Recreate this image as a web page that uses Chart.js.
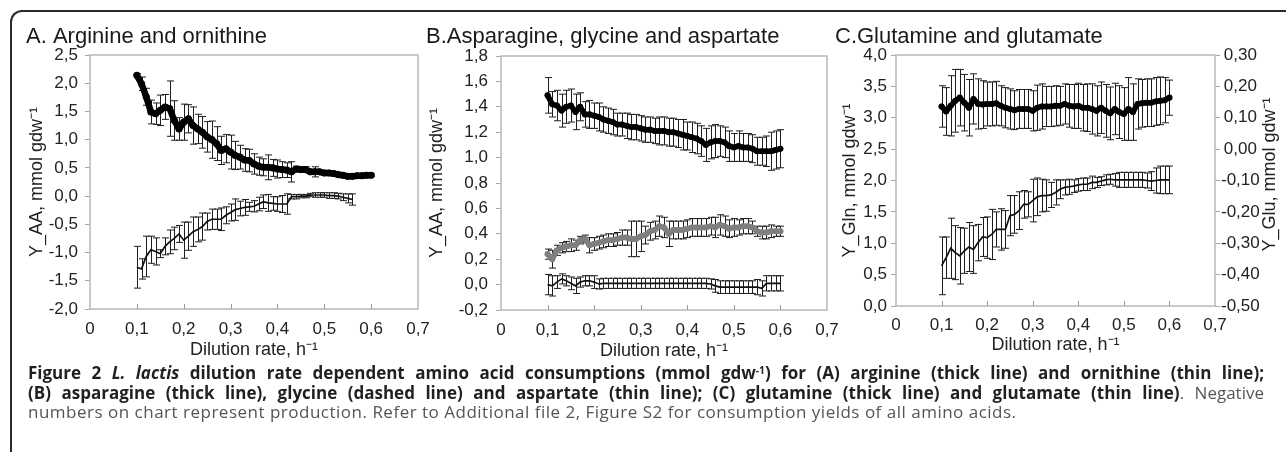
<!DOCTYPE html>
<html>
<head>
<meta charset="utf-8">
<title>Figure 2 - L. lactis amino acid consumption</title>
<script src="https://cdn.jsdelivr.net/npm/chart.js@4.4.1/dist/chart.umd.min.js"></script>
<style>
  html, body { margin: 0; padding: 0; background: #fff; }
  body { width: 1286px; height: 452px; position: relative; overflow: hidden; }
  .frame {
    position: absolute; left: 10px; top: 10px; width: 1320px; height: 480px;
    border-top: 2px solid #2b2b2b; border-left: 2px solid #2b2b2b;
    border-top-left-radius: 12px;
  }
  canvas { position: absolute; }
  .caption {
    position: absolute; left: 28px; top: 363px; width: 1236px;
    font-family: "Open Sans", "Noto Sans", sans-serif; font-size: 17px; line-height: 19.5px;
    color: #555;
  }
  .caption b { color: #231f20; }
  .caption .j { text-align: justify; text-align-last: justify; white-space: nowrap; }
  .caption .last { letter-spacing: 0.5px; white-space: nowrap; }
  .caption sup { font-size: 0.6em; line-height: 0; vertical-align: 0.5em; }
</style>
</head>
<body>
<div class="frame"></div>
<canvas id="chartA"></canvas>
<canvas id="chartB"></canvas>
<canvas id="chartC"></canvas>
<div class="caption">
  <div class="j"><b>Figure 2 <i>L. lactis</i> dilution rate dependent amino acid consumptions (mmol gdw<sup>-1</sup>) for (A) arginine (thick line) and ornithine (thin line);</b></div>
  <div class="j"><b>(B) asparagine (thick line), glycine (dashed line) and aspartate (thin line); (C) glutamine (thick line) and glutamate (thin line)</b>. Negative</div>
  <div class="last">numbers on chart represent production. Refer to Additional file 2, Figure S2 for consumption yields of all amino acids.</div>
</div>
<script>
// Datos (tasa de dilucion en h-1)
const dilutionRate = [0.10, 0.11, 0.12, 0.13, 0.14, 0.15, 0.16, 0.17, 0.18, 0.19,
                      0.20, 0.21, 0.22, 0.23, 0.24, 0.25, 0.26, 0.27, 0.28, 0.29,
                      0.30, 0.31, 0.32, 0.33, 0.34, 0.35, 0.36, 0.37, 0.38, 0.39,
                      0.40, 0.41, 0.42, 0.43, 0.44, 0.45, 0.46, 0.47, 0.48, 0.49,
                      0.50, 0.51, 0.52, 0.53, 0.54, 0.55, 0.56, 0.57, 0.58, 0.59, 0.60];

// A. arginina (linea gruesa) y ornitina (linea fina)
const arginine = [2.14, 1.99, 1.76, 1.49, 1.46, 1.52, 1.58, 1.55, 1.34, 1.19,
                  1.31, 1.37, 1.25, 1.19, 1.13, 1.05, 1.00, 0.93, 0.81, 0.84,
                  0.78, 0.72, 0.69, 0.64, 0.63, 0.57, 0.53, 0.51, 0.51, 0.50,
                  0.48, 0.47, 0.46, 0.43, 0.48, 0.47, 0.47, 0.43, 0.43, 0.43,
                  0.41, 0.41, 0.40, 0.38, 0.37, 0.35, 0.35, 0.36, 0.36, 0.37, 0.37];
const arginineErr = [0.03, 0.12, 0.15, 0.21, 0.19, 0.27, 0.22, 0.49, 0.35, 0.20,
                     0.32, 0.25, 0.33, 0.26, 0.28, 0.27, 0.33, 0.30, 0.25, 0.25,
                     0.30, 0.25, 0.21, 0.20, 0.20, 0.18, 0.16, 0.15, 0.22, 0.15,
                     0.16, 0.14, 0.13, 0.18, 0.05, 0.03, 0.05, 0.03, 0.09, 0.02,
                     0.02, 0.02, 0.02, 0.02, 0.02, 0.02, 0.02, 0.02, 0.02, 0.02, 0.02];
const ornithine = [-1.26, -1.29, -1.07, -0.95, -0.98, -1.02, -0.89, -0.81, -0.75, -0.67,
                   -0.78, -0.71, -0.63, -0.59, -0.54, -0.45, -0.41, -0.41, -0.41, -0.34,
                   -0.29, -0.24, -0.22, -0.20, -0.19, -0.18, -0.14, -0.10, -0.12, -0.13,
                   -0.14, -0.14, -0.14, -0.01, -0.01, 0.00, 0.00, 0.02, 0.02, 0.02,
                   0.02, 0.01, 0.01, 0.00, -0.02, -0.04, -0.06];
const ornithineErr = [0.37, 0.18, 0.36, 0.24, 0.24, 0.07, 0.15, 0.21, 0.20, 0.15,
                      0.32, 0.25, 0.26, 0.22, 0.24, 0.15, 0.18, 0.18, 0.20, 0.15,
                      0.15, 0.19, 0.13, 0.14, 0.08, 0.10, 0.12, 0.12, 0.15, 0.12,
                      0.13, 0.15, 0.18, 0.04, 0.04, 0.03, 0.03, 0.03, 0.04, 0.04,
                      0.04, 0.05, 0.05, 0.05, 0.06, 0.08, 0.10];

// B. asparagina (gruesa), glicina (gris) y aspartato (fina)
const asparagine = [1.49, 1.42, 1.41, 1.37, 1.40, 1.41, 1.36, 1.40, 1.34, 1.34,
                    1.33, 1.32, 1.30, 1.29, 1.28, 1.26, 1.26, 1.25, 1.24, 1.24,
                    1.23, 1.22, 1.22, 1.21, 1.21, 1.21, 1.20, 1.20, 1.19, 1.18,
                    1.17, 1.16, 1.15, 1.13, 1.10, 1.12, 1.13, 1.13, 1.12, 1.09,
                    1.08, 1.09, 1.08, 1.08, 1.07, 1.05, 1.05, 1.05, 1.05, 1.06, 1.07];
const asparagineErr = [0.14, 0.10, 0.12, 0.13, 0.13, 0.13, 0.14, 0.11, 0.10, 0.11,
                       0.10, 0.11, 0.10, 0.10, 0.10, 0.09, 0.09, 0.10, 0.10, 0.10,
                       0.10, 0.10, 0.10, 0.10, 0.11, 0.11, 0.11, 0.11, 0.11, 0.12,
                       0.11, 0.12, 0.12, 0.12, 0.13, 0.13, 0.13, 0.12, 0.12, 0.12,
                       0.11, 0.12, 0.11, 0.11, 0.11, 0.11, 0.11, 0.12, 0.15, 0.15, 0.15];
const glycine = [0.24, 0.20, 0.27, 0.29, 0.30, 0.31, 0.31, 0.35, 0.36, 0.31,
                 0.32, 0.33, 0.34, 0.35, 0.35, 0.36, 0.37, 0.37, 0.36, 0.36,
                 0.38, 0.39, 0.42, 0.43, 0.46, 0.45, 0.40, 0.43, 0.43, 0.43,
                 0.44, 0.45, 0.45, 0.45, 0.45, 0.46, 0.45, 0.47, 0.46, 0.44,
                 0.45, 0.45, 0.46, 0.46, 0.45, 0.42, 0.41, 0.41, 0.42, 0.42, 0.42];
const glycineErr = [0.04, 0.07, 0.04, 0.04, 0.04, 0.05, 0.04, 0.03, 0.03, 0.06,
                    0.05, 0.05, 0.05, 0.05, 0.05, 0.05, 0.06, 0.06, 0.14, 0.14,
                    0.12, 0.07, 0.07, 0.07, 0.08, 0.08, 0.10, 0.07, 0.07, 0.07,
                    0.07, 0.07, 0.07, 0.07, 0.07, 0.07, 0.08, 0.08, 0.08, 0.07,
                    0.07, 0.06, 0.06, 0.06, 0.05, 0.04, 0.05, 0.05, 0.05, 0.04, 0.04];
const aspartate = [0.00, -0.01, 0.02, 0.045, 0.03, 0.01, -0.01, 0.02, 0.03, 0.03,
                   0.02, 0.005, 0.01, 0.01, 0.01, 0.01, 0.01, 0.01, 0.01, 0.01,
                   0.01, 0.01, 0.01, 0.01, 0.01, 0.01, 0.01, 0.01, 0.01, 0.01,
                   0.01, 0.01, 0.01, 0.01, 0.01, 0.005, -0.01, -0.02, -0.02, -0.02,
                   -0.02, -0.02, -0.02, -0.02, -0.02, -0.02, -0.03, 0.01, 0.01, 0.01, 0.01];
const aspartateErr = [0.08, 0.08, 0.05, 0.04, 0.04, 0.05, 0.06, 0.04, 0.04, 0.04,
                      0.05, 0.04, 0.04, 0.04, 0.04, 0.04, 0.04, 0.04, 0.04, 0.04,
                      0.04, 0.04, 0.04, 0.04, 0.04, 0.04, 0.04, 0.04, 0.04, 0.04,
                      0.04, 0.04, 0.04, 0.04, 0.04, 0.04, 0.05, 0.05, 0.05, 0.05,
                      0.05, 0.05, 0.05, 0.05, 0.05, 0.06, 0.06, 0.06, 0.06, 0.06, 0.06];

// C. glutamina (eje izquierdo) y glutamato (eje derecho)
const glutamine = [3.18, 3.10, 3.19, 3.27, 3.32, 3.24, 3.16, 3.30, 3.22, 3.21,
                   3.22, 3.22, 3.23, 3.19, 3.16, 3.14, 3.12, 3.14, 3.14, 3.14,
                   3.11, 3.16, 3.18, 3.18, 3.18, 3.19, 3.19, 3.22, 3.19, 3.18,
                   3.19, 3.16, 3.16, 3.14, 3.11, 3.16, 3.11, 3.07, 3.14, 3.09,
                   3.06, 3.14, 3.09, 3.22, 3.23, 3.24, 3.24, 3.26, 3.27, 3.28, 3.32];
const glutamineErr = [0.33, 0.38, 0.48, 0.50, 0.45, 0.45, 0.45, 0.40, 0.40, 0.38,
                      0.35, 0.35, 0.35, 0.32, 0.32, 0.32, 0.31, 0.31, 0.31, 0.31,
                      0.32, 0.36, 0.36, 0.32, 0.32, 0.32, 0.31, 0.32, 0.34, 0.35,
                      0.36, 0.37, 0.38, 0.40, 0.40, 0.41, 0.42, 0.42, 0.41, 0.42,
                      0.42, 0.50, 0.45, 0.40, 0.38, 0.38, 0.38, 0.38, 0.38, 0.36, 0.28];
const glutamate = [-0.372, -0.346, -0.316, -0.330, -0.340, -0.324, -0.312, -0.320, -0.298, -0.280,
                   -0.282, -0.272, -0.256, -0.256, -0.256, -0.212, -0.208, -0.196, -0.176, -0.176,
                   -0.164, -0.152, -0.148, -0.148, -0.146, -0.138, -0.128, -0.122, -0.120, -0.118,
                   -0.114, -0.112, -0.112, -0.106, -0.106, -0.102, -0.098, -0.096, -0.098, -0.098,
                   -0.098, -0.098, -0.098, -0.098, -0.098, -0.100, -0.102, -0.100, -0.098, -0.098, -0.098];
const glutamateErr = [0.092, 0.066, 0.096, 0.086, 0.090, 0.072, 0.078, 0.076, 0.058, 0.062,
                      0.066, 0.080, 0.056, 0.066, 0.060, 0.064, 0.060, 0.060, 0.044, 0.040,
                      0.068, 0.060, 0.052, 0.050, 0.040, 0.040, 0.030, 0.024, 0.024, 0.020,
                      0.020, 0.020, 0.020, 0.020, 0.016, 0.014, 0.016, 0.016, 0.020, 0.024,
                      0.024, 0.024, 0.024, 0.024, 0.024, 0.024, 0.030, 0.040, 0.044, 0.044, 0.044];

// Ejes: [min, max, paso]
const xRange = [0, 0.7, 0.1];
const yRangeA = [-2.0, 2.5, 0.5];
const yRangeB = [-0.2, 1.8, 0.2];
const yRangeC = [0.0, 4.0, 0.5];
const yRangeGlu = [-0.5, 0.3, 0.1];

Chart.defaults.font.family = '"Liberation Sans", Arial, Helvetica, sans-serif';
Chart.defaults.color = '#222';

const TICK_FONT = { size: 17 };
const AXIS_FONT = { size: 18 };
const TITLE_FONT = { size: 22, weight: 'normal' };
const AXIS_LH = AXIS_FONT.size * 1.2;

function comma(v, digits) {
    return v.toFixed(digits).replace('.', ',');
}

function pts(values) {
    return values.map((y, i) => ({ x: dilutionRate[i], y: y }));
}

// Barras de error con las escalas del grafico
function drawErrorBars(chart) {
    const ctx = chart.ctx;
    chart.data.datasets.forEach((ds, i) => {
        if (!ds.errors) return;
        const meta = chart.getDatasetMeta(i);
        const yScale = chart.scales[meta.yAxisID];
        ctx.save();
        ctx.strokeStyle = '#1e1e1e';
        ctx.lineWidth = 1;
        ctx.beginPath();
        meta.data.forEach((el, j) => {
            const e = ds.errors[j];
            if (!e) return;
            const v = ds.data[j].y;
            const px = Math.round(el.x) + 0.5;
            const top = yScale.getPixelForValue(v + e);
            const bot = yScale.getPixelForValue(v - e);
            ctx.moveTo(px, top); ctx.lineTo(px, bot);
            ctx.moveTo(px - 3.5, top); ctx.lineTo(px + 3.5, top);
            ctx.moveTo(px - 3.5, bot); ctx.lineTo(px + 3.5, bot);
        });
        ctx.stroke();
        ctx.restore();
    });
}

// Marco del area de trazado, marcas interiores del eje x y barras de error
const framePlugin = {
    id: 'frame',
    beforeDatasetsDraw(chart) {
        const { ctx, chartArea: a, scales } = chart;
        ctx.save();
        ctx.strokeStyle = '#b8b8b8';
        ctx.lineWidth = 1.5;
        ctx.strokeRect(a.left, a.top, a.right - a.left, a.bottom - a.top);
        ctx.strokeStyle = '#9a9a9a';
        ctx.lineWidth = 1;
        ctx.beginPath();
        scales.x.ticks.forEach(t => {
            if (t.value <= scales.x.min + 1e-9 || t.value >= scales.x.max - 1e-9) return;
            const px = Math.round(scales.x.getPixelForValue(t.value)) + 0.5;
            ctx.moveTo(px, a.bottom);
            ctx.lineTo(px, a.bottom - 5);
        });
        ctx.stroke();
        ctx.restore();
        drawErrorBars(chart);
    }
};

// Titulo del eje derecho, girado como el izquierdo
const sideTitlePlugin = {
    id: 'sideTitle',
    afterDraw(chart, args, opts) {
        if (!opts.text) return;
        const { ctx, chartArea: a } = chart;
        ctx.save();
        ctx.translate(opts.x, (a.top + a.bottom) / 2 + (opts.dy || 0));
        ctx.rotate(-Math.PI / 2);
        ctx.font = AXIS_FONT.size + 'px ' + Chart.defaults.font.family;
        ctx.fillStyle = '#222';
        ctx.textAlign = 'center';
        ctx.textBaseline = 'middle';
        ctx.fillText(opts.text, 0, 0);
        ctx.restore();
    }
};

function yAxis(range, width, tickPad, titleText, titlePad, digits, position) {
    return {
        type: 'linear',
        position: position || 'left',
        min: range[0], max: range[1],
        ticks: {
            stepSize: range[2], padding: tickPad, font: TICK_FONT, color: '#222',
            crossAlign: position === 'right' ? 'center' : 'near',
            callback: v => comma(v, digits)
        },
        grid: { drawOnChartArea: false, drawTicks: true, tickLength: 5, color: '#a8a8a8' },
        border: { display: false },
        title: { display: !!titleText, text: titleText, font: AXIS_FONT, color: '#222', padding: { top: titlePad, bottom: 0 } },
        afterFit: s => { s.width = width; s.paddingTop = 0; s.paddingBottom = 0; }
    };
}

function makePanel(id, g, title, datasets, yScales, extra) {
    const canvas = document.getElementById(id);
    const w = g.canvasRight - g.left;
    const h = Math.round(g.xTitleY + AXIS_LH / 2) - g.top;
    const xAxisH = h - (g.plotBottom - g.top);
    canvas.width = w; canvas.height = h;
    canvas.style.left = g.left + 'px'; canvas.style.top = g.top + 'px';
    canvas.style.width = w + 'px'; canvas.style.height = h + 'px';

    const scales = Object.assign({
        x: {
            type: 'linear', min: xRange[0], max: xRange[1],
            ticks: {
                stepSize: xRange[2], padding: g.xTickPad, font: TICK_FONT, color: '#222', maxRotation: 0,
                callback: v => Math.abs(v) < 1e-9 ? '0' : comma(v, 1)
            },
            grid: { display: false, drawTicks: false },
            border: { display: false },
            title: { display: true, text: 'Dilution rate, h⁻¹', font: AXIS_FONT, color: '#222', padding: { top: 0, bottom: 0 } },
            afterFit: s => { s.height = xAxisH; s.paddingLeft = 0; s.paddingRight = 0; }
        }
    }, yScales);

    return new Chart(canvas, {
        type: 'line',
        data: { datasets: datasets },
        options: {
            responsive: false,
            animation: false,
            layout: { padding: { left: 0, right: g.rightPad, top: 0, bottom: 0 } },
            plugins: Object.assign({
                legend: { display: false },
                tooltip: { enabled: false },
                title: {
                    display: true, text: title, align: 'start', font: TITLE_FONT, color: '#1a1a1a',
                    padding: { top: 10, bottom: g.plotTop - g.top - 10 - TITLE_FONT.size * 1.2 }
                }
            }, extra || {}),
            scales: scales
        },
        plugins: [framePlugin, sideTitlePlugin]
    });
}

const thick = (color, width) => ({
    borderColor: color, backgroundColor: color, borderWidth: width,
    pointRadius: width / 2 + 0.3, pointBorderWidth: 0, pointBackgroundColor: color,
    borderJoinStyle: 'round', borderCapStyle: 'round'
});
const thin = { borderColor: '#111', borderWidth: 1.7, pointRadius: 0 };

// Panel A
makePanel('chartA',
    { left: 26, top: 14, plotTop: 55, plotBottom: 309, canvasRight: 432, rightPad: 14, xTickPad: 10, xTitleY: 350 },
    'A. Arginine and ornithine',
    [
        Object.assign({ label: 'Arginine', data: pts(arginine), errors: arginineErr }, thick('#000', 6.5)),
        Object.assign({ label: 'Ornithine', data: pts(ornithine), errors: ornithineErr }, thin)
    ],
    { y: yAxis(yRangeA, 64, 7, 'Y_AA, mmol gdw⁻¹', 0, 1) }
);

// Panel B
makePanel('chartB',
    { left: 426, top: 14, plotTop: 56, plotBottom: 310, canvasRight: 841, rightPad: 14, xTickPad: 10, xTitleY: 351 },
    'B.Asparagine, glycine and aspartate',
    [
        Object.assign({ label: 'Asparagine', data: pts(asparagine), errors: asparagineErr }, thick('#000', 5.5)),
        Object.assign({ label: 'Glycine', data: pts(glycine), errors: glycineErr }, thick('#7f7f7f', 5.5)),
        Object.assign({ label: 'Aspartate', data: pts(aspartate), errors: aspartateErr }, thin)
    ],
    { y: yAxis(yRangeB, 75, 8, 'Y_AA, mmol gdw⁻¹', 0, 1) }
);

// Panel C (dos ejes y)
makePanel('chartC',
    { left: 835, top: 14, plotTop: 55, plotBottom: 306, canvasRight: 1286, rightPad: 0, xTickPad: 9, xTitleY: 345 },
    'C.Glutamine and glutamate',
    [
        Object.assign({ label: 'Glutamine', data: pts(glutamine), errors: glutamineErr, yAxisID: 'y' }, thick('#000', 5.5)),
        Object.assign({ label: 'Glutamate', data: pts(glutamate), errors: glutamateErr, yAxisID: 'y2' }, thin)
    ],
    {
        y: yAxis(yRangeC, 61, 4, 'Y_Gln, mmol gdw⁻¹', 4, 1),
        y2: yAxis(yRangeGlu, 71, 1, '', 0, 2, 'right')
    },
    { sideTitle: { text: 'Y_Glu, mmol gdw⁻¹', x: 435, dy: -6 } }
);
</script>
</body>
</html>
